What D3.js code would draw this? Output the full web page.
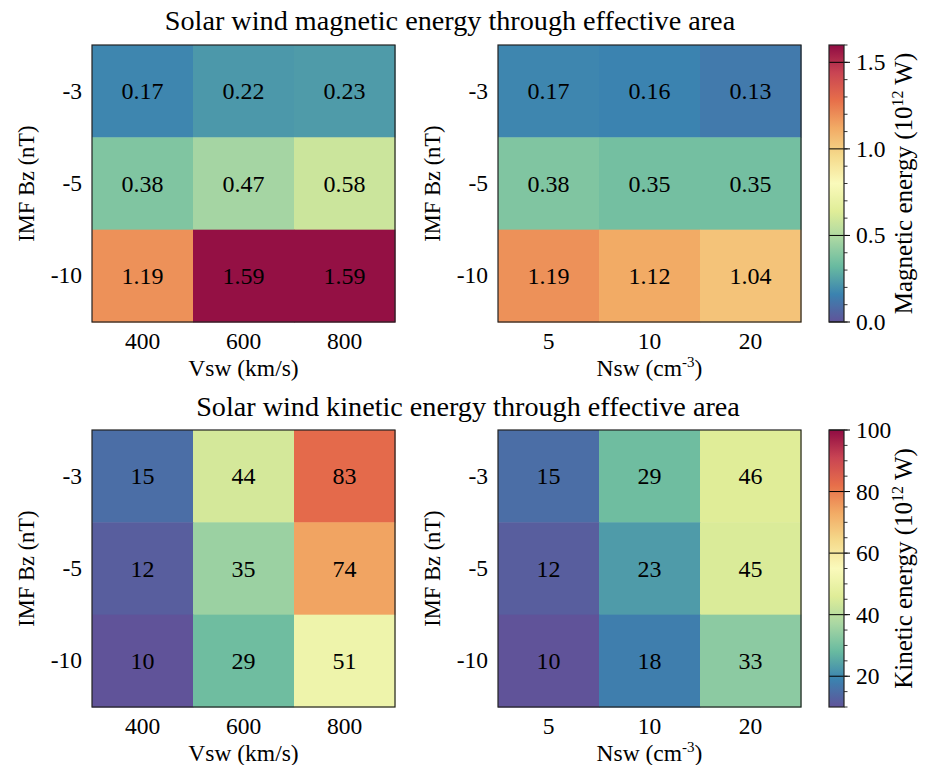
<!DOCTYPE html>
<html>
<head>
<meta charset="utf-8">
<script src="https://cdn.jsdelivr.net/npm/d3@7"></script>
<style>
  html, body { margin: 0; padding: 0; background: #fff; }
  svg text { font-family: "Liberation Serif", "Times New Roman", serif; fill: #000; }
</style>
</head>
<body>
<svg id="fig" width="929" height="765"></svg>
<script>
// IMF Bz rows (top to bottom)
const bzLabels = ["-3", "-5", "-10"];
// Solar wind speed and density columns
const vswLabels = ["400", "600", "800"];
const nswLabels = ["5", "10", "20"];

// Magnetic energy (10^12 W), rows = Bz, columns = Vsw / Nsw
const magVsw = [
  [0.17, 0.22, 0.23],
  [0.38, 0.47, 0.58],
  [1.19, 1.59, 1.59]
];
const magNsw = [
  [0.17, 0.16, 0.13],
  [0.38, 0.35, 0.35],
  [1.19, 1.12, 1.04]
];
// Kinetic energy (10^12 W)
const kinVsw = [
  [15, 44, 83],
  [12, 35, 74],
  [10, 29, 51]
];
const kinNsw = [
  [15, 29, 46],
  [12, 23, 45],
  [10, 18, 33]
];

const magTicks = [0.0, 0.5, 1.0, 1.5];
const kinTicks = [20, 40, 60, 80, 100];

// ColorBrewer Spectral, reversed (low = purple, high = dark red)
const spectral = ["#9e0142","#d53e4f","#f46d43","#fdae61","#fee08b","#ffffbf",
                  "#e6f598","#abdda4","#66c2a5","#3288bd","#5e4fa2"].reverse();

// slightly muted version of the palette
const muted = spectral.map(c => {
  const h = d3.hsl(c);
  h.s *= 0.86;
  h.l *= 0.98;
  return h.formatHex();
});

function makeColor(vmin, vmax) {
  const n = muted.length;
  return d3.scaleLinear()
    .domain(d3.range(n).map(i => vmin + (vmax - vmin) * i / (n - 1)))
    .range(muted)
    .interpolate(d3.interpolateRgb)
    .clamp(true);
}

const magColor = makeColor(0, 1.6);
const kinColor = makeColor(10, 100);

const svg = d3.select("#fig");
const FS_CELL = 24;   // values inside cells
const FS_TICK = 23.5; // tick labels
const FS_LAB = 23.5;  // axis titles
const FS_TITLE = 28.2;

const panelW = 303, panelH = 277;
const leftX = [92, 498];
const topY = [45, 430];

function heatmap(x0, y0, data, colLabels, color, fmt, xLabel) {
  const g = svg.append("g").attr("transform", `translate(${x0},${y0})`);
  const xs = d3.scaleBand().domain(colLabels).range([0, panelW]);
  const ys = d3.scaleBand().domain(bzLabels).range([0, panelH]);

  data.forEach((row, i) => {
    row.forEach((v, j) => {
      g.append("rect")
        .attr("x", xs(colLabels[j]))
        .attr("y", ys(bzLabels[i]))
        .attr("width", xs.bandwidth() + 0.5)
        .attr("height", ys.bandwidth() + 0.5)
        .attr("fill", color(v));
      g.append("text")
        .attr("x", xs(colLabels[j]) + xs.bandwidth() / 2)
        .attr("y", ys(bzLabels[i]) + ys.bandwidth() / 2)
        .attr("text-anchor", "middle")
        .attr("dominant-baseline", "central")
        .style("font-size", FS_CELL + "px")
        .text(fmt(v));
    });
  });

  g.append("rect")
    .attr("width", panelW).attr("height", panelH)
    .attr("fill", "none").attr("stroke", "#222").attr("stroke-width", 1.2);

  // x axis
  const xa = g.append("g").attr("transform", `translate(0,${panelH})`)
    .call(d3.axisBottom(xs).tickSize(0).tickPadding(10.5));
  xa.select(".domain").remove();
  xa.selectAll("text").style("font-size", FS_TICK + "px").attr("font-family", null);

  // y axis
  const ya = g.append("g")
    .call(d3.axisLeft(ys).tickSize(0).tickPadding(10));
  ya.select(".domain").remove();
  ya.selectAll("text").style("font-size", FS_TICK + "px").attr("font-family", null);

  // axis titles
  const xl = g.append("text")
    .attr("x", panelW / 2).attr("y", panelH + 53.5)
    .attr("text-anchor", "middle")
    .style("font-size", FS_LAB + "px");
  xLabel(xl);

  g.append("text")
    .attr("transform", `translate(-58,${panelH / 2}) rotate(-90)`)
    .attr("text-anchor", "middle")
    .style("font-size", "22.5px")
    .text("IMF Bz (nT)");
}

function vswLabel(t) { t.text("Vsw (km/s)"); }
function nswLabel(t) {
  t.append("tspan").text("Nsw (cm");
  t.append("tspan").attr("dy", -9).style("font-size", "15px").text("-3");
  t.append("tspan").attr("dy", 9).text(")");
}

function colorbar(x0, y0, color, vmin, vmax, ticks, minorStep, fmt, name) {
  const w = 15;
  const g = svg.append("g").attr("transform", `translate(${x0},${y0})`);
  const ys = d3.scaleLinear().domain([vmin, vmax]).range([panelH, 0]);
  const id = "grad-" + name.replace(/\W/g, "");
  const grad = svg.append("defs").append("linearGradient")
    .attr("id", id).attr("x1", 0).attr("y1", 1).attr("x2", 0).attr("y2", 0);
  d3.range(0, 1.0001, 0.02).forEach(t => {
    grad.append("stop").attr("offset", t).attr("stop-color", color(vmin + t * (vmax - vmin)));
  });
  g.append("rect").attr("width", w).attr("height", panelH).attr("fill", `url(#${id})`);

  // minor ticks
  const minor = d3.range(Math.ceil(vmin / minorStep) * minorStep, vmax + 1e-9, minorStep);
  minor.forEach(v => {
    g.append("line").attr("x1", w).attr("x2", w + 3.5)
      .attr("y1", ys(v)).attr("y2", ys(v)).attr("stroke", "#000").attr("stroke-width", 0.8);
  });
  ticks.forEach(v => {
    g.append("line").attr("x1", 0).attr("x2", w + 6)
      .attr("y1", ys(v)).attr("y2", ys(v)).attr("stroke", "#000").attr("stroke-width", 1);
  });
  const ax = g.append("g").attr("transform", `translate(${w},0)`)
    .call(d3.axisRight(ys).tickValues(ticks).tickFormat(fmt).tickSize(0).tickPadding(12));
  ax.select(".domain").remove();
  ax.selectAll("text").style("font-size", FS_TICK + "px").attr("font-family", null);

  g.append("rect").attr("width", w).attr("height", panelH)
    .attr("fill", "none").attr("stroke", "#222").attr("stroke-width", 1.2);

  const lab = g.append("text")
    .attr("transform", `translate(83,${panelH / 2}) rotate(-90)`)
    .attr("text-anchor", "middle")
    .style("font-size", "25px");
  lab.append("tspan").text(name + " (10");
  lab.append("tspan").attr("dy", -9).style("font-size", "16px").text("12");
  lab.append("tspan").attr("dy", 9).text(" W)");
}

const f2 = d3.format(".2f");
const f0 = d3.format("d");

// Titles
svg.append("text").attr("x", 450).attr("y", 30).attr("text-anchor", "middle")
  .style("font-size", FS_TITLE + "px").text("Solar wind magnetic energy through effective area");
svg.append("text").attr("x", 468).attr("y", 416).attr("text-anchor", "middle")
  .style("font-size", FS_TITLE + "px").text("Solar wind kinetic energy through effective area");

heatmap(leftX[0], topY[0], magVsw, vswLabels, magColor, f2, vswLabel);
heatmap(leftX[1], topY[0], magNsw, nswLabels, magColor, f2, nswLabel);
heatmap(leftX[0], topY[1], kinVsw, vswLabels, kinColor, f0, vswLabel);
heatmap(leftX[1], topY[1], kinNsw, nswLabels, kinColor, f0, nswLabel);

colorbar(829, topY[0], magColor, 0, 1.6, magTicks, 0.1, d3.format(".1f"), "Magnetic energy");
colorbar(829, topY[1], kinColor, 10, 100, kinTicks, 5, f0, "Kinetic energy");
</script>
</body>
</html>
